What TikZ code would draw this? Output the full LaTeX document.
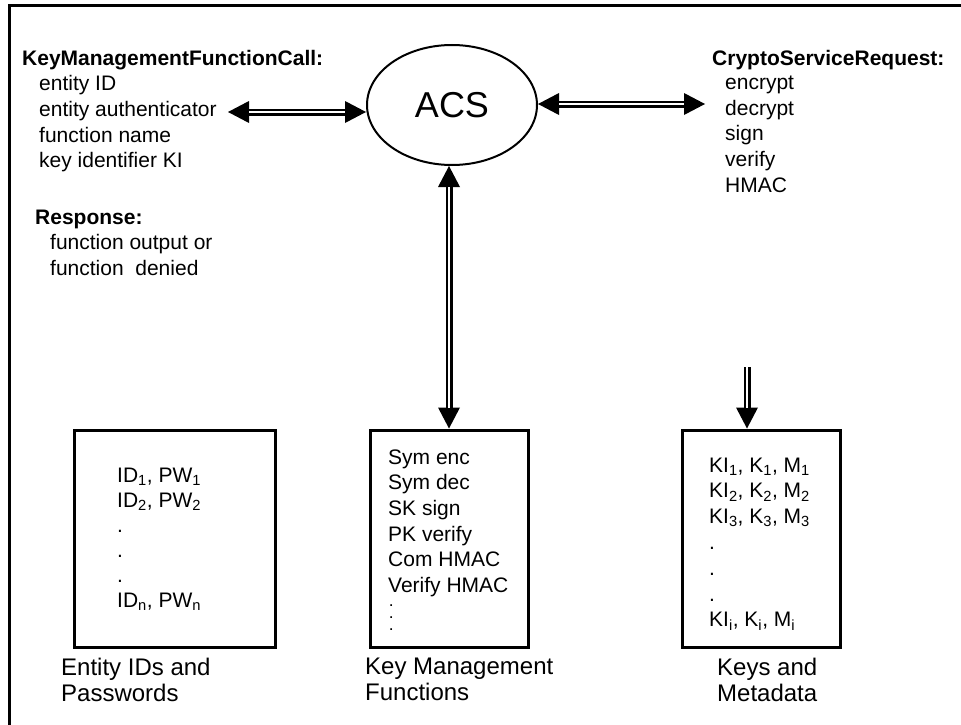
\documentclass[tikz,border=0pt]{standalone}
\usepackage{fontspec}
\setmainfont{Liberation Sans}
\usetikzlibrary{arrows.meta,shapes.geometric,calc}
\tikzset{
  Hd/.tip={Triangle[length=21pt,width=22pt,line width=0pt]},
  body/.style={inner sep=0pt, anchor=north west, align=left, font=\fontsize{21}{25.6}\selectfont},
  ttl/.style={inner sep=0pt, anchor=north west, align=left, font=\fontsize{21}{25.6}\selectfont\bfseries},
  lbl/.style={inner sep=0pt, anchor=north west, align=left, font=\fontsize{24}{26}\selectfont},
  store/.style={draw, line width=3pt, rectangle, inner sep=0pt, minimum height=217pt},
  dblo/.style={line width=7pt},
  dbli/.style={white, line width=2.8pt},
}
\begin{document}
\begin{tikzpicture}[x=1pt,y=-1pt]
\useasboundingbox (0,0) rectangle (961,725);
% frame
\draw[line width=3pt] (9,725) -- (9,5.5) -- (961,5.5);

% central ellipse
\node[ellipse, draw, line width=2pt, minimum width=170pt, minimum height=120pt,
      inner sep=0pt, font=\fontsize{36}{40}\selectfont] (acs) at (452,105) {ACS};

% left texts
\node[ttl] (kmfc) at (22,50.5) {KeyManagementFunctionCall:};
\node[body] (kmfcl) at (39,75.5) {entity ID\\entity authenticator\\function name\\key identifier KI};
\node[ttl] (resp) at (35,209.5) {Response:};
\node[body] (respl) at (50,234.5) {function output or\\function\ \ denied};

% right texts
\node[ttl] (csr) at (712,50.5) {CryptoServiceRequest:};
\node[body] (csrl) at (725,76) {encrypt\\decrypt\\sign\\verify\\HMAC};

% stores
\node[store, minimum width=201pt] (eid) at (174.5,538.5) {};
\node[store, minimum width=158pt] (kmf) at (449,538.5) {};
\node[store, minimum width=158pt] (km) at (761,538.5) {};

\node[body, font=\fontsize{21}{25}\selectfont] (eidt) at (117,467.5)
  {ID\textsubscript{1}, PW\textsubscript{1}\\ID\textsubscript{2}, PW\textsubscript{2}\\.\\.\\.\\ID\textsubscript{n}, PW\textsubscript{n}};
\node[body] (kmft) at (388,449.5)
  {Sym enc\\Sym dec\\SK sign\\PK verify\\Com HMAC\\Verify HMAC};
\node[body, font=\fontsize{12}{12}\selectfont\bfseries] (kmfd) at (389.5,604.5) {.\\.\\.};
\node[body, font=\fontsize{21}{25.8}\selectfont] (kmt) at (709,457.5)
  {KI\textsubscript{1}, K\textsubscript{1}, M\textsubscript{1}\\KI\textsubscript{2}, K\textsubscript{2}, M\textsubscript{2}\\KI\textsubscript{3}, K\textsubscript{3}, M\textsubscript{3}\\.\\.\\.\\KI\textsubscript{i}, K\textsubscript{i}, M\textsubscript{i}};

% labels
\node[lbl] (eidl) at (61,658) {Entity IDs and\\Passwords};
\node[lbl] (kmfl) at (365,658) {Key Management\\Functions};
\node[lbl] (kml) at (717,658) {Keys and\\Metadata};

% connectors
\coordinate (kl) at (228,112);
\coordinate (cr) at (705,104);
\coordinate (kt) at (747,367);
\draw[dblo, Hd-Hd] (kl) -- ($(acs.west)+(0,7)$);
\draw[dbli, shorten <=21pt, shorten >=21pt] (kl) -- ($(acs.west)+(0,7)$);
\draw[dblo, Hd-Hd] ($(acs.east)+(0,-1)$) -- (cr);
\draw[dbli, shorten <=21pt, shorten >=21pt] ($(acs.east)+(0,-1)$) -- (cr);
\draw[dblo, Hd-Hd] (kmf.north |- acs.south) -- (kmf.north);
\draw[dbli, shorten <=21pt, shorten >=21pt] (kmf.north |- acs.south) -- (kmf.north);
\draw[dblo, -Hd] (kt) -- (kt |- km.north);
\draw[dbli, shorten >=21pt] (kt) -- (kt |- km.north);
\end{tikzpicture}
\end{document}
